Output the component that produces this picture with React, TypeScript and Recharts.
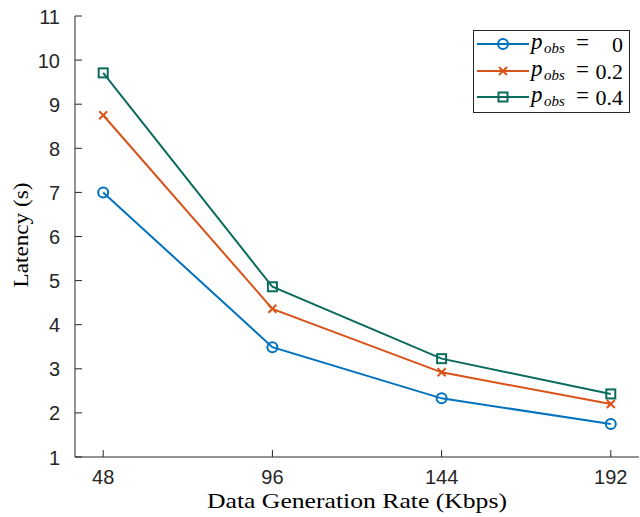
import React from "react";
import { LineChart, Line, XAxis, YAxis } from "recharts";

const rates = [48, 96, 144, 192];
const latencyP0 = [7.0, 3.49, 2.33, 1.75];
const latencyP02 = [8.75, 4.36, 2.92, 2.2];
const latencyP04 = [9.71, 4.86, 3.23, 2.43];
const yTicks = [1, 2, 3, 4, 5, 6, 7, 8, 9, 10, 11];

const seriesInfo = [
  { key: "p0", label: "0", color: "#0072BD", marker: "circle" },
  { key: "p02", label: "0.2", color: "#D95319", marker: "x" },
  { key: "p04", label: "0.4", color: "#0B6B5C", marker: "square" },
];

const data = rates.map((r, i) => ({
  x: r,
  p0: latencyP0[i],
  p02: latencyP02[i],
  p04: latencyP04[i],
}));

const AX = "#262626";
const SANS = "'Liberation Sans', Arial, Helvetica, sans-serif";
const SERIF = "'Liberation Serif', 'Times New Roman', serif";
const TL = 7;

function Marker({ type, cx, cy, color }: any) {
  if (cx == null || cy == null) return null;
  if (type === "circle")
    return <circle cx={cx} cy={cy} r={5} fill="none" stroke={color} strokeWidth={2} />;
  if (type === "x")
    return (
      <g stroke={color} strokeWidth={2}>
        <line x1={cx - 4} y1={cy - 4} x2={cx + 4} y2={cy + 4} />
        <line x1={cx - 4} y1={cy + 4} x2={cx + 4} y2={cy - 4} />
      </g>
    );
  return <rect x={cx - 4.5} y={cy - 4.5} width={9} height={9} fill="none" stroke={color} strokeWidth={2} />;
}

const LeftTick = (props: any) => {
  const { x, y, payload } = props;
  const ax = x + 15;
  return (
    <g>
      <line x1={ax} y1={y} x2={ax + TL} y2={y} stroke={AX} strokeWidth={1} />
      <text x={x} y={y + 7.5} textAnchor="end" fontFamily={SANS} fontSize={20} fill={AX}>
        {payload.value}
      </text>
    </g>
  );
};

const RightTick = (props: any) => {
  const { x, y } = props;
  return <line x1={x} y1={y} x2={x - TL} y2={y} stroke={AX} strokeWidth={1} />;
};

const BottomTick = (props: any) => {
  const { x, y, payload } = props;
  return (
    <g>
      <line x1={x} y1={y} x2={x} y2={y - TL} stroke={AX} strokeWidth={1} />
      <text x={x} y={y + 27} textAnchor="middle" fontFamily={SANS} fontSize={20} fill={AX}>
        {payload.value}
      </text>
    </g>
  );
};

const TopTick = (props: any) => {
  const { x, y } = props;
  return <line x1={x} y1={y} x2={x} y2={y + TL} stroke={AX} strokeWidth={1} />;
};

const LegendBox = () => {
  const rowY = [44, 71, 97];
  return (
    <svg width={158} height={84} style={{ display: "block" }}>
      <rect x={0.5} y={0.5} width={156} height={82} fill="#fff" stroke={AX} strokeWidth={1} />
      {seriesInfo.map((s, i) => {
        const cy = rowY[i] - 30;
        return (
          <g key={s.key}>
            <line x1={4} y1={cy} x2={56} y2={cy} stroke={s.color} strokeWidth={2} />
            <Marker type={s.marker} cx={30} cy={cy} color={s.color} />
            <text x={58} y={cy + 5} fontFamily={SERIF} fontSize={23} fontStyle="italic" fill="#000">
              p
            </text>
            <text x={71} y={cy + 9} fontFamily={SERIF} fontSize={15} fontStyle="italic" fill="#000">
              obs
            </text>
            <text x={103} y={cy + 6} fontFamily={SERIF} fontSize={23} fill="#000">
              =
            </text>
            <text x={150} y={cy + 7.5} textAnchor="end" fontFamily={SERIF} fontSize={22} fill="#000">
              {s.label}
            </text>
          </g>
        );
      })}
    </svg>
  );
};

export default function App() {
  return (
    <div style={{ position: "absolute", left: 0, top: 0, width: 640, height: 517, background: "#fff" }}>
      <LineChart width={640} height={517} data={data} margin={{ top: 16, right: 1, bottom: 0, left: 0 }}>
        <XAxis
          xAxisId="b"
          dataKey="x"
          type="number"
          domain={[40, 200]}
          ticks={rates}
          orientation="bottom"
          height={60}
          tickSize={0}
          tickMargin={0}
          tickLine={false}
          tick={<BottomTick />}
          axisLine={{ stroke: AX, strokeWidth: 1 }}
          label={{
            content: ({ viewBox }: any) => (
              <text
                x={viewBox.x + viewBox.width / 2}
                y={viewBox.y + 51}
                textAnchor="middle"
                fontFamily={SERIF}
                fontSize={21}
                textLength={300}
                lengthAdjust="spacingAndGlyphs"
                fill="#000"
              >
                Data Generation Rate (Kbps)
              </text>
            ),
          }}
        />
        <XAxis
          xAxisId="t"
          dataKey="x"
          type="number"
          domain={[40, 200]}
          ticks={rates}
          orientation="top"
          height={0}
          tickSize={0}
          tickMargin={0}
          tickLine={false}
          tick={<TopTick />}
          axisLine={{ stroke: AX, strokeWidth: 1 }}
        />
        <YAxis
          yAxisId="l"
          type="number"
          domain={[1, 11]}
          ticks={yTicks}
          width={75}
          tickSize={0}
          tickMargin={15}
          tickLine={false}
          tick={<LeftTick />}
          axisLine={{ stroke: AX, strokeWidth: 1 }}
          label={{
            content: ({ viewBox }: any) => {
              const cx = 28;
              const cy = viewBox.y + viewBox.height / 2 - 1.5;
              return (
                <text
                  x={cx}
                  y={cy}
                  transform={`rotate(-90 ${cx} ${cy})`}
                  textAnchor="middle"
                  fontFamily={SERIF}
                  fontSize={21}
                  textLength={105}
                  lengthAdjust="spacingAndGlyphs"
                  fill="#000"
                >
                  Latency (s)
                </text>
              );
            },
          }}
        />
        <YAxis
          yAxisId="r"
          orientation="right"
          type="number"
          domain={[1, 11]}
          ticks={yTicks}
          width={0}
          tickSize={0}
          tickMargin={0}
          tickLine={false}
          tick={<RightTick />}
          axisLine={{ stroke: AX, strokeWidth: 1 }}
        />
        {seriesInfo.map((s) => (
          <Line
            key={s.key}
            xAxisId="b"
            yAxisId="l"
            dataKey={s.key}
            stroke={s.color}
            strokeWidth={2}
            isAnimationActive={false}
            dot={(p: any) => <Marker key={`${s.key}-${p.index}`} type={s.marker} cx={p.cx} cy={p.cy} color={s.color} />}
            activeDot={false}
          />
        ))}
      </LineChart>
      <div style={{ position: "absolute", left: 473, top: 30 }}>
        <LegendBox />
      </div>
    </div>
  );
}
